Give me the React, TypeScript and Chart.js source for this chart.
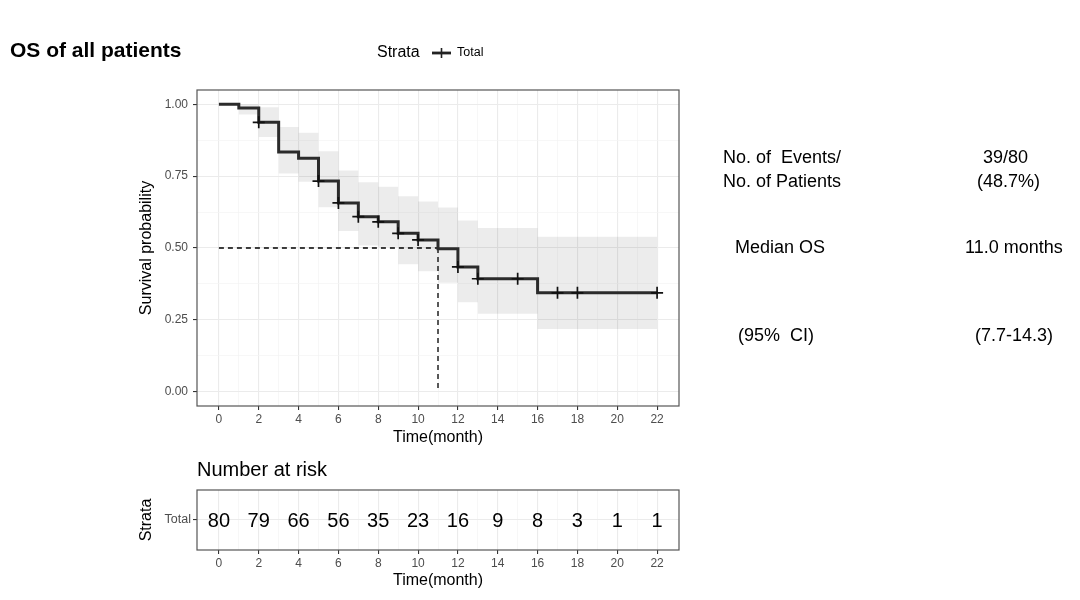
import React, { useEffect, useRef } from "react";
import { Chart, registerables } from "chart.js";

Chart.register(...registerables);

const FONT = "'Liberation Sans', Arial, Helvetica, sans-serif";

// ---- data ----
const kmTimes = [0, 1, 2, 3, 4, 5, 6, 7, 8, 9, 10, 11, 12, 13, 16, 22];
const kmSurv = [1, 0.9875, 0.9375, 0.834, 0.812, 0.733, 0.657, 0.609, 0.591, 0.551, 0.528, 0.497, 0.434, 0.393, 0.344, 0.344];
const ciUpper = [1, 1, 0.99, 0.921, 0.901, 0.837, 0.77, 0.729, 0.713, 0.68, 0.662, 0.641, 0.596, 0.57, 0.539, 0.539];
const ciLower = [1, 0.965, 0.886, 0.759, 0.731, 0.642, 0.559, 0.509, 0.504, 0.443, 0.419, 0.379, 0.311, 0.271, 0.218, 0.218];
const censorTimes = [2, 5, 6, 7, 8, 9, 10, 12, 13, 15, 17, 18, 22];
const censorSurv = [0.9375, 0.733, 0.657, 0.609, 0.591, 0.551, 0.528, 0.434, 0.393, 0.393, 0.344, 0.344, 0.344];
const medianTime = 11;
const medianSurv = 0.5;
const riskTimes = [0, 2, 4, 6, 8, 10, 12, 14, 16, 18, 20, 22];
const riskCounts = [80, 79, 66, 56, 35, 23, 16, 9, 8, 3, 1, 1];
const xTickValues = [0, 1, 2, 3, 4, 5, 6, 7, 8, 9, 10, 11, 12, 13, 14, 15, 16, 17, 18, 19, 20, 21, 22];
const yTickValues = [0, 0.125, 0.25, 0.375, 0.5, 0.625, 0.75, 0.875, 1];
const plotTitle = "OS of all patients";
const legendTitle = "Strata";
const legendLabel = "Total";
const statLabels = ["No. of  Events/", "No. of Patients", "Median OS", "(95%  CI)"];
const statValues = ["39/80", "(48.7%)", "11.0 months", "(7.7-14.3)"];

const GRID_MAJOR = "#ebebeb";
const GRID_MINOR = "#f3f3f3";
const TICK_TEXT = "#4d4d4d";

function xScaleOptions() {
  return {
    type: "linear" as const,
    min: -1.1,
    max: 23.1,
    afterBuildTicks: (s: any) => {
      s.ticks = xTickValues.map((v) => ({ value: v }));
    },
    ticks: {
      autoSkip: false,
      maxRotation: 0,
      padding: 2,
      color: TICK_TEXT,
      font: { size: 12, family: FONT },
      callback: (v: any) => (Number(v) % 2 === 0 ? String(v) : ""),
    },
    grid: {
      color: (c: any) => (c.tick && c.tick.value % 2 === 0 ? GRID_MAJOR : GRID_MINOR),
      lineWidth: (c: any) => (c.tick && c.tick.value % 2 === 0 ? 1.1 : 0.7),
      tickColor: (c: any) => (c.tick && c.tick.value % 2 === 0 ? "#333333" : "rgba(0,0,0,0)"),
      tickLength: 4,
      drawTicks: true,
    },
    border: { display: false },
    title: {
      display: true,
      text: "Time(month)",
      color: "#000",
      font: { size: 16, family: FONT },
      padding: { top: 0, bottom: 0 },
    },
  };
}

const mainDecor = {
  id: "mainDecor",
  afterDraw(chart: any) {
    const { ctx, chartArea: a } = chart;
    ctx.save();
    // panel border
    ctx.strokeStyle = "#555555";
    ctx.lineWidth = 1.2;
    ctx.strokeRect(a.left, a.top, a.right - a.left, a.bottom - a.top);
    // title
    ctx.fillStyle = "#000";
    ctx.textBaseline = "alphabetic";
    ctx.textAlign = "left";
    ctx.font = `bold 21px ${FONT}`;
    ctx.fillText(plotTitle, 10, 57);
    // legend
    ctx.font = `16px ${FONT}`;
    ctx.textBaseline = "middle";
    ctx.fillText(legendTitle, 377, 53);
    ctx.strokeStyle = "#222";
    ctx.lineWidth = 2.8;
    ctx.beginPath();
    ctx.moveTo(432, 53);
    ctx.lineTo(451, 53);
    ctx.stroke();
    ctx.lineWidth = 1.6;
    ctx.beginPath();
    ctx.moveTo(441.5, 48);
    ctx.lineTo(441.5, 58);
    ctx.stroke();
    ctx.font = `12.5px ${FONT}`;
    ctx.fillText(legendLabel, 457, 53);
    // stats text
    ctx.font = `18px ${FONT}`;
    const labX = [723, 723, 735, 738];
    const labY = [158, 182, 248, 336];
    const valX = [983, 977, 965, 975];
    statLabels.forEach((t, i) => ctx.fillText(t, labX[i], labY[i]));
    statValues.forEach((t, i) => ctx.fillText(t, valX[i], labY[i]));
    ctx.restore();
  },
};

const riskDecor = {
  id: "riskDecor",
  afterDraw(chart: any) {
    const { ctx, chartArea: a } = chart;
    ctx.save();
    ctx.strokeStyle = "#555555";
    ctx.lineWidth = 1.2;
    ctx.strokeRect(a.left, a.top, a.right - a.left, a.bottom - a.top);
    ctx.fillStyle = "#000";
    ctx.textAlign = "left";
    ctx.textBaseline = "middle";
    ctx.font = `20px ${FONT}`;
    ctx.fillText("Number at risk", a.left, 470);
    const meta = chart.getDatasetMeta(0);
    ctx.textAlign = "center";
    ctx.font = `20px ${FONT}`;
    meta.data.forEach((pt: any, i: number) => {
      ctx.fillText(String(riskCounts[i]), pt.x, pt.y + 1);
    });
    ctx.restore();
  },
};

export default function App() {
  const mainRef = useRef<HTMLCanvasElement | null>(null);
  const riskRef = useRef<HTMLCanvasElement | null>(null);

  useEffect(() => {
    Chart.defaults.font.family = FONT;
    const km = kmTimes.map((t, i) => ({ x: t, y: kmSurv[i] }));
    const up = kmTimes.map((t, i) => ({ x: t, y: ciUpper[i] }));
    const lo = kmTimes.map((t, i) => ({ x: t, y: ciLower[i] }));
    const cens = censorTimes.map((t, i) => ({ x: t, y: censorSurv[i] }));
    const medH = [
      { x: 0, y: medianSurv },
      { x: medianTime, y: medianSurv },
    ];
    const medV = [
      { x: medianTime, y: medianSurv },
      { x: medianTime, y: 0 },
    ];

    const main = new Chart(mainRef.current as HTMLCanvasElement, {
      type: "line",
      data: {
        datasets: [
          {
            data: cens,
            showLine: false,
            pointStyle: "cross",
            pointRadius: 6,
            pointBorderWidth: 1.7,
            pointBorderColor: "#111",
            order: 0,
          } as any,
          {
            data: km,
            stepped: "before",
            borderColor: "#2b2b2b",
            borderWidth: 3,
            pointRadius: 0,
            fill: false,
            order: 1,
          },
          {
            data: medH,
            borderColor: "#000",
            borderWidth: 1.3,
            borderDash: [5, 4],
            pointRadius: 0,
            fill: false,
            order: 2,
          },
          {
            data: medV,
            borderColor: "#000",
            borderWidth: 1.3,
            borderDash: [5, 4],
            pointRadius: 0,
            fill: false,
            order: 2,
          },
          {
            data: up,
            stepped: "before",
            borderWidth: 0,
            borderColor: "rgba(0,0,0,0)",
            backgroundColor: "rgba(0,0,0,0.075)",
            pointRadius: 0,
            fill: "+1",
            order: 3,
          },
          {
            data: lo,
            stepped: "before",
            borderWidth: 0,
            borderColor: "rgba(0,0,0,0)",
            pointRadius: 0,
            fill: false,
            order: 4,
          },
        ],
      },
      options: {
        responsive: false,
        animation: false,
        events: [],
        devicePixelRatio: 1,
        layout: { padding: { left: 0, top: 90, right: 401, bottom: 153 } },
        plugins: { legend: { display: false }, tooltip: { enabled: false }, title: { display: false } },
        scales: {
          x: { ...xScaleOptions(), afterFit: (s: any) => { s.height = 41; } } as any,
          y: {
            type: "linear",
            min: -0.05,
            max: 1.05,
            afterBuildTicks: (s: any) => {
              s.ticks = yTickValues.map((v) => ({ value: v }));
            },
            afterFit: (s: any) => {
              s.width = 197;
            },
            ticks: {
              autoSkip: false,
              padding: 5,
              color: TICK_TEXT,
              font: { size: 12, family: FONT },
              callback: (v: any) => (Math.round(Number(v) * 8) % 2 === 0 ? Number(v).toFixed(2) : ""),
            },
            grid: {
              color: (c: any) => (c.tick && Math.round(c.tick.value * 8) % 2 === 0 ? GRID_MAJOR : GRID_MINOR),
              lineWidth: (c: any) => (c.tick && Math.round(c.tick.value * 8) % 2 === 0 ? 1.1 : 0.7),
              tickColor: (c: any) => (c.tick && Math.round(c.tick.value * 8) % 2 === 0 ? "#333333" : "rgba(0,0,0,0)"),
              tickLength: 4,
            },
            border: { display: false },
            title: {
              display: true,
              text: "Survival probability",
              color: "#000",
              font: { size: 16, family: FONT },
              padding: { top: 137, bottom: 0 },
            },
          } as any,
        },
      },
      plugins: [mainDecor],
    });

    const risk = new Chart(riskRef.current as HTMLCanvasElement, {
      type: "scatter",
      data: {
        datasets: [
          {
            data: riskTimes.map((t) => ({ x: t, y: 1 })),
            pointRadius: 0,
            showLine: false,
          },
        ],
      },
      options: {
        responsive: false,
        animation: false,
        events: [],
        devicePixelRatio: 1,
        layout: { padding: { left: 0, top: 490, right: 401, bottom: 10 } },
        plugins: { legend: { display: false }, tooltip: { enabled: false } },
        scales: {
          x: { ...xScaleOptions(), afterFit: (s: any) => { s.height = 40; } } as any,
          y: {
            type: "linear",
            min: 0,
            max: 2,
            afterBuildTicks: (s: any) => {
              s.ticks = [{ value: 1 }];
            },
            afterFit: (s: any) => {
              s.width = 197;
            },
            ticks: {
              padding: 2,
              color: TICK_TEXT,
              font: { size: 12.5, family: FONT },
              callback: () => legendLabel,
            },
            grid: {
              color: GRID_MAJOR,
              lineWidth: 1.1,
              tickColor: "#333333",
              tickLength: 4,
            },
            border: { display: false },
            title: {
              display: true,
              text: "Strata",
              color: "#000",
              font: { size: 16, family: FONT },
              padding: { top: 137, bottom: 0 },
            },
          } as any,
        },
      },
      plugins: [riskDecor],
    });

    return () => {
      main.destroy();
      risk.destroy();
    };
  }, []);

  const cs: React.CSSProperties = { position: "absolute", left: 0, top: 0, width: 1080, height: 600 };
  return (
    <div style={{ position: "fixed", left: 0, top: 0, width: 1080, height: 600, background: "#fff" }}>
      <canvas ref={mainRef} width={1080} height={600} style={cs} />
      <canvas ref={riskRef} width={1080} height={600} style={cs} />
    </div>
  );
}
